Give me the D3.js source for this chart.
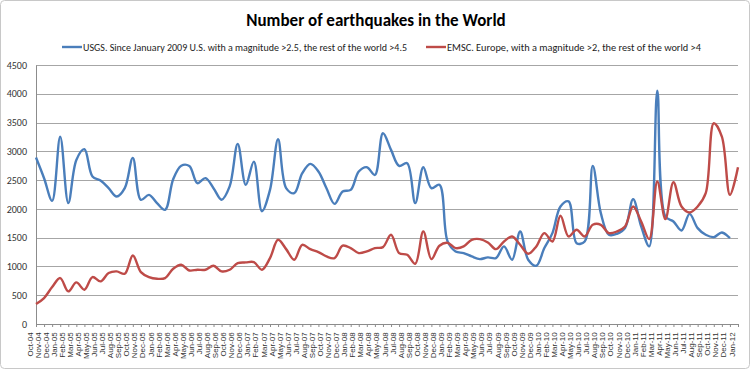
<!DOCTYPE html>
<html><head><meta charset="utf-8">
<script src="https://cdn.jsdelivr.net/npm/d3@7"></script>
<style>body{margin:0;background:#fff}svg{display:block}</style>
</head><body>
<script>
const months = (() => {
  const m = ["Jan","Feb","Mar","Apr","May","Jun","Jul","Aug","Sep","Oct","Nov","Dec"];
  const out = [];
  let y = 2004, k = 9;
  while (!(y === 2012 && k === 1)) {
    out.push(m[k] + "-" + String(y).slice(2));
    k++; if (k === 12) { k = 0; y++; }
  }
  return out;
})();

const usgs = [2892,2533,2140,3256,2100,2851,3037,2562,2493,2360,2215,2360,2886,2157,2244,2100,1984,2515,
  2750,2745,2447,2535,2360,2160,2390,3130,2418,2822,1960,2330,3210,2360,2273,2620,2782,2650,
  2360,2088,2302,2330,2649,2724,2590,3314,3025,2747,2794,2100,2724,2360,2418,1440,1261,
  1232,1174,1128,1157,1145,1348,1116,1608,1116,1012,1319,1579,2042,2130,1405,1434,2747,
  1926,1550,1567,1666,2169,1695,1348,4055,1868,1781,1625,1914,1666,1550,1510,1591,1492,null];

const emsc = [347,451,642,798,567,723,596,815,740,885,914,873,1191,902,815,786,798,960,
  1030,930,943,943,1012,914,943,1058,1070,1075,943,1145,1463,1301,1116,1376,1300,1250,
  1174,1145,1360,1319,1232,1261,1319,1336,1550,1232,1203,1047,1610,1128,1360,1410,1319,
  1348,1463,1475,1417,1301,1434,1521,1377,1220,1348,1579,1434,1880,1521,1637,1521,1724,
  1724,1579,1608,1695,2042,1781,1475,2476,1822,2464,2042,1938,2042,2273,3488,3256,2244,2724];

const yTicks = [0,500,1000,1500,2000,2500,3000,3500,4000,4500];
const seriesNames = ["USGS. Since January 2009 U.S. with a magnitude >2.5, the rest of the world >4.5",
                     "EMSC. Europe, with a magnitude  >2, the rest of the world >4"];
const colors = ["#4a7ebb", "#be4b48"];
const title = "Number of earthquakes in the World";

const W = 750, H = 369;
const m = {left: 36, right: 12, top: 65, bottom: 45};
const FONT = "Carlito, Lato, 'Liberation Sans', sans-serif";
const svg = d3.select("body").append("svg").attr("width", W).attr("height", H)
  .style("font-family", FONT);

svg.append("rect").attr("x", 0.5).attr("y", 0.5).attr("width", W - 1).attr("height", H - 1)
  .attr("rx", 4).attr("fill", "#fff").attr("stroke", "#c8c8c8");

const x = d3.scalePoint().domain(months).range([m.left, W - m.right]);
const y = d3.scaleLinear().domain([0, 4500]).range([H - m.bottom, m.top]);

// gridlines
svg.append("g").selectAll("line").data(yTicks.slice(1)).join("line")
  .attr("x1", m.left).attr("x2", W - m.right)
  .attr("y1", d => Math.round(y(d)) + 0.5).attr("y2", d => Math.round(y(d)) + 0.5)
  .attr("stroke", "#a6a6a6").attr("stroke-width", 1);

// y axis
const yAxis = svg.append("g").attr("transform", `translate(${m.left},0)`)
  .call(d3.axisLeft(y).tickValues(yTicks).tickFormat(d3.format("d")).tickSize(0).tickPadding(9));
yAxis.select(".domain").attr("stroke", "#8c8c8c");
yAxis.selectAll("text").attr("font-size", 10).attr("fill", "#333")
  .style("font-family", FONT);

// x axis
const xAxis = svg.append("g").attr("transform", `translate(0,${H - m.bottom})`)
  .call(d3.axisBottom(x).tickSizeOuter(0).tickSize(3).tickPadding(3));
xAxis.select(".domain").attr("stroke", "#8c8c8c");
xAxis.selectAll(".tick line").attr("stroke", "#8c8c8c");
xAxis.selectAll("text").attr("font-size", 8).attr("fill", "#333")
  .attr("text-anchor", "end").attr("dx", "-0.3em").attr("dy", "-0.5em")
  .attr("transform", "rotate(-90)").attr("x", -6).attr("y", 0)
  .style("font-family", "'Liberation Sans Narrow', 'Liberation Sans', Arial, sans-serif");

// lines
const line = d3.line().defined(d => d[1] != null)
  .x(d => x(d[0])).y(d => y(d[1])).curve(d3.curveCatmullRom.alpha(0.5));
[usgs, emsc].forEach((s, i) => {
  svg.append("path").datum(months.map((mm, j) => [mm, s[j]]))
    .attr("d", line).attr("fill", "none").attr("stroke", colors[i])
    .attr("stroke-width", 2.4).attr("stroke-linejoin", "round");
});

// title
svg.append("text").attr("x", 376).attr("y", 26).attr("text-anchor", "middle")
  .attr("font-size", 17).attr("font-weight", "bold").attr("fill", "#000").text(title);

// legend
const legX = [62, 426];
const legW = [324, 254];
seriesNames.forEach((n, i) => {
  const g = svg.append("g").attr("transform", `translate(${legX[i]},47)`);
  g.append("line").attr("x1", 0).attr("x2", 20).attr("stroke", colors[i]).attr("stroke-width", 2.4);
  g.append("text").attr("x", 21).attr("y", 3.5).attr("font-size", 10.3).attr("fill", "#222")
    .attr("textLength", legW[i]).attr("lengthAdjust", "spacingAndGlyphs").text(n);
});
</script>
</body></html>
